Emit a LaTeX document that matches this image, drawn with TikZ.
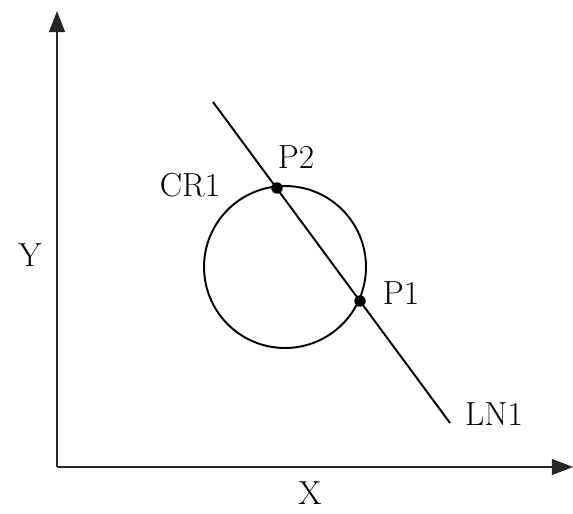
\documentclass[tikz,border=0pt]{standalone}
\usepackage{tikz}
\usetikzlibrary{arrows.meta}

\begin{document}
\begin{tikzpicture}[
  x=0.02cm, y=-0.02cm,
  axis/.style={-{Triangle[length=12pt, width=9pt]}, line width=1.1pt, draw=black!85},
  curve/.style={line width=1.1pt, draw=black},
  pt/.style={circle, fill=black, inner sep=0pt, minimum size=6.5pt},
  lbl/.style={font=\fontsize{19}{22}\selectfont, inner sep=0pt}
]
\useasboundingbox (0,0) rectangle (573,513);

% Axes
\coordinate (origin) at (57,467);
\coordinate (ytip) at (57,11);
\coordinate (xtip) at (573,467);
\draw[axis] (origin) -- (ytip);
\draw[axis] (origin) -- (xtip);
\node[lbl] (ylbl) at (30,255) {Y};
\node[lbl] (xlbl) at (310,493) {X};

% Circle CR1
\node[circle, curve, draw, minimum size=3.24cm, inner sep=0pt] (cr1) at (285,267) {};
\node[lbl] (cr1lbl) at (190,185) {CR1};

% Line LN1
\coordinate (lnstart) at (213,102);
\coordinate (lnend) at (450,423);
\draw[curve] (lnstart) -- (lnend);
\node[lbl] (ln1lbl) at (494,414) {LN1};

% Intersection points
\node[pt] (p2) at (277,188) {};
\node[pt] (p1) at (360,301) {};
\node[lbl] (p2lbl) at (296,157) {P2};
\node[lbl] (p1lbl) at (401,293) {P1};

\end{tikzpicture}
\end{document}
